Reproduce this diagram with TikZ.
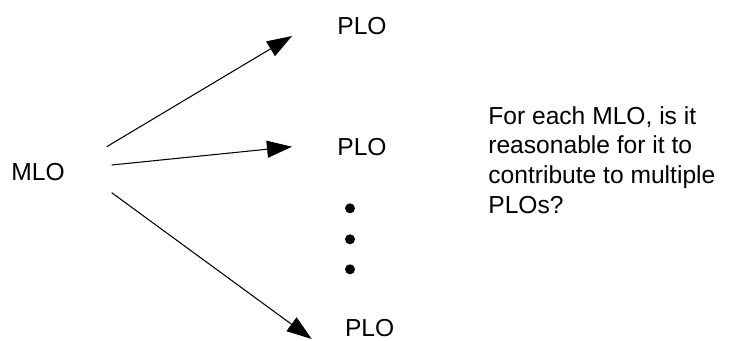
\documentclass[tikz,border=0pt]{standalone}
\usepackage{fontspec}
\setmainfont{Liberation Sans}
\usetikzlibrary{arrows.meta}

\begin{document}
\begin{tikzpicture}[scale=1.0,
    dot/.style={circle,fill,inner sep=0pt,minimum size=2mm},
    >={Triangle[length=5mm,width=3.4mm]},
    conn/.style={->,line width=0.6pt},
    lbl/.style={inner sep=0pt,anchor=base west,font=\fontsize{14pt}{16.9pt}\selectfont}
]

%------------------------ 画布 ------------------------
\useasboundingbox (0,0) rectangle (14.62,6.8);

%------------------------ 文字 ------------------------
\node[lbl] (mlo)  at (0.22,3.2)   {MLO};
\node[lbl] (ploA) at (6.74,6.11)  {PLO};
\node[lbl] (ploB) at (6.74,3.70)  {PLO};
\node[lbl] (ploC) at (6.894,0.08) {PLO};
% 基线为最后一行
\node[lbl,align=left] (note) at (9.76,2.534)
  {For each MLO, is it\\reasonable for it to\\contribute to multiple\\PLOs?};

%------------------------ 箭头端点 ------------------------
\coordinate (sA) at (2.134,3.866);
\coordinate (sB) at (2.234,3.5);
\coordinate (sC) at (2.234,2.946);
\coordinate (tA) at (5.84,6.08);
\coordinate (tB) at (5.84,3.866);
\coordinate (tC) at (6.234,0.02);

% 连接线
\draw[conn] (sA) -- (tA);
\draw[conn] (sB) -- (tB);
\draw[conn] (sC) -- (tC);

% 省略号
\foreach \y in {2.634,2.014,1.414}
  \node[dot] at (7.0,\y) {};

\end{tikzpicture}
\end{document}
